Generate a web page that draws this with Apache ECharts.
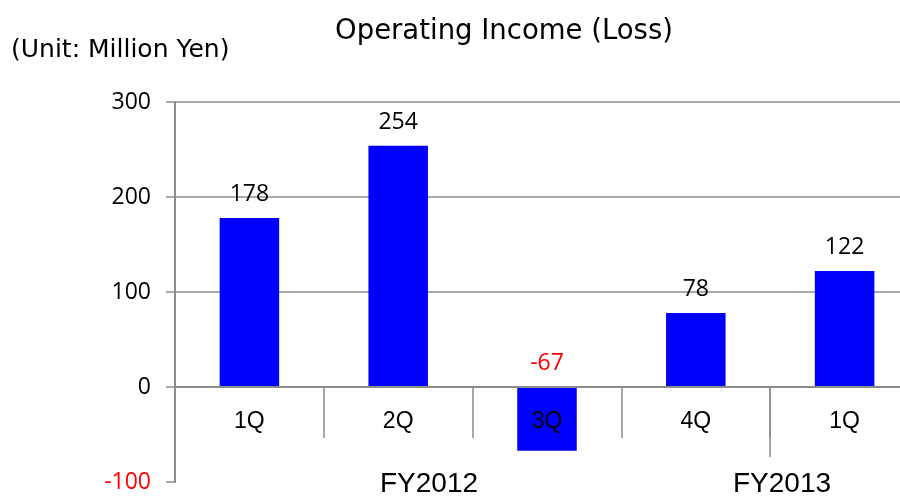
<!DOCTYPE html>
<html>
<head>
<meta charset="utf-8">
<script src="https://cdn.jsdelivr.net/npm/echarts@6/dist/echarts.min.js"></script>
<style>
  html, body { margin: 0; padding: 0; background: #fff; }
  #chart { width: 900px; height: 497px; }
</style>
</head>
<body>
<div id="chart"></div>
<script>
const quarters = ['1Q', '2Q', '3Q', '4Q', '1Q']
const income = [178, 254, -67, 78, 122]
const fiscalYears = ['FY2012', 'FY2013']
const yTicks = { min: -100, max: 300, step: 100 }
// boundary (in category units) where FY2013 starts
const yearBreak = [4]

const chart = echarts.init(document.getElementById('chart'))
const grey = '#8c8c8c'
// x axis sits on the zero line: distance from grid bottom (-100) up to 0
const zeroOffset = -95

chart.setOption({
  animation: false,
  title: {
    text: 'Operating Income (Loss)',
    left: 499,
    top: 13,
    textAlign: 'center',
    textStyle: { fontFamily: 'DejaVu Sans', fontSize: 27.5, fontWeight: 'normal', color: '#000' }
  },
  graphic: [
    { type: 'text', left: 11, top: 38, style: { text: '(Unit: Million Yen)', font: '25px "DejaVu Sans"', fill: '#000' } },
    { type: 'text', left: 380, top: 470, style: { text: fiscalYears[0], font: '28px "Liberation Sans"', fill: '#000' } },
    { type: 'text', left: 733, top: 470, style: { text: fiscalYears[1], font: '28px "Liberation Sans"', fill: '#000' } }
  ],
  grid: { left: 175, right: -19, top: 102, bottom: 15, outerBoundsMode: 'none' },
  xAxis: [{
    type: 'category',
    data: quarters,
    position: 'bottom',
    offset: zeroOffset,
    z: 10,
    axisLine: { onZero: false, lineStyle: { color: grey, width: 2 } },
    axisTick: { show: true, length: 51, lineStyle: { color: grey, width: 1.5 } },
    axisLabel: { margin: 23, fontFamily: 'Liberation Sans', fontSize: 23, color: '#000' }
  }, {
    type: 'value',
    min: 0,
    max: quarters.length,
    position: 'bottom',
    offset: zeroOffset,
    axisLine: { show: false, onZero: false },
    axisTick: { show: true, length: 70, customValues: yearBreak, lineStyle: { color: grey, width: 1.5 } },
    axisLabel: { show: false },
    splitLine: { show: false }
  }],
  yAxis: {
    type: 'value',
    min: yTicks.min,
    max: yTicks.max,
    interval: yTicks.step,
    axisLine: { show: true, lineStyle: { color: grey, width: 2 } },
    axisTick: { show: true, length: 9, lineStyle: { color: grey, width: 1.5 } },
    axisLabel: {
      margin: 24,
      fontFamily: 'Open Sans',
      fontSize: 23,
      color: (v) => (v < 0 ? '#ff0000' : '#000')
    },
    splitLine: { show: true, lineStyle: { color: ['transparent', grey, grey, grey, grey], width: 1.5 } }
  },
  series: [{
    type: 'bar',
    xAxisIndex: 0,
    data: income.map((v) => ({
      value: v,
      label: { color: v < 0 ? '#ff0000' : '#000' }
    })),
    barWidth: '40%',
    itemStyle: { color: '#0000ff' },
    label: {
      show: true,
      position: 'top',
      distance: 12,
      fontFamily: 'Open Sans',
      fontSize: 23
    }
  }]
})
</script>
</body>
</html>
